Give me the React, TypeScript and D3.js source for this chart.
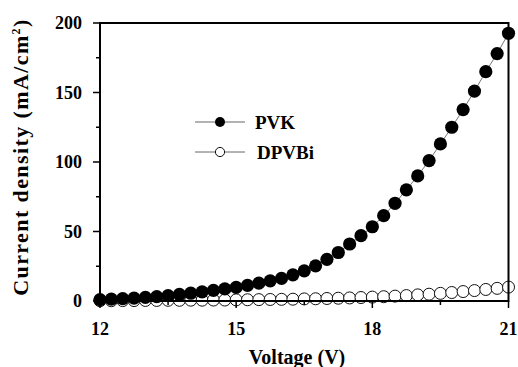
import React from "react";
import * as d3 from "d3";

const voltage: number[] = [
  12, 12.25, 12.5, 12.75, 13, 13.25, 13.5, 13.75, 14, 14.25, 14.5, 14.75,
  15, 15.25, 15.5, 15.75, 16, 16.25, 16.5, 16.75, 17, 17.25, 17.5, 17.75,
  18, 18.25, 18.5, 18.75, 19, 19.25, 19.5, 19.75, 20, 20.25, 20.5, 20.75, 21,
];
const pvk: number[] = [
  1.0, 1.3, 1.7, 2.1, 2.6, 3.2, 3.9, 4.7, 5.6, 6.6, 7.6, 8.7,
  9.8, 11.2, 12.8, 14.5, 16.3, 18.8, 21.7, 25.3, 30.0, 34.9, 41.0, 47.0,
  53.4, 61.4, 70.3, 80.0, 90.0, 101.0, 113.0, 125.0, 137.7, 151.0, 165.0, 178.0, 192.6,
];
const dpvbi: number[] = [
  0.2, 0.2, 0.3, 0.3, 0.4, 0.4, 0.5, 0.5, 0.6, 0.6, 0.7, 0.7,
  0.8, 0.9, 1.0, 1.1, 1.2, 1.3, 1.5, 1.6, 1.8, 2.0, 2.2, 2.5,
  2.8, 3.1, 3.5, 3.9, 4.4, 4.9, 5.5, 6.1, 6.8, 7.5, 8.3, 9.1, 10.0,
];
const xMajor: number[] = [12, 15, 18, 21];
const xMinor: number[] = [13.5, 16.5, 19.5];
const yMajor: number[] = [0, 50, 100, 150, 200];
const yMinor: number[] = [25, 75, 125, 175];
const seriesNames: string[] = ["PVK", "DPVBi"];

const FONT = '"Liberation Serif", "DejaVu Serif", serif';

export default function App() {
  const left = 100, right = 508.5, top = 23, bottom = 301;
  const x = d3.scaleLinear().domain([12, 21]).range([left, right]);
  const y = d3.scaleLinear().domain([0, 200]).range([bottom, top]);
  const line = d3
    .line<number>()
    .x((_, i) => x(voltage[i]))
    .y((d) => y(d));

  return (
    <svg
      width={518}
      height={367}
      style={{ position: "absolute", left: 0, top: 0, background: "#fff", fontFamily: FONT, fontWeight: "bold" }}
    >
      <rect x={0} y={0} width={518} height={367} fill="#fff" />
      {/* DPVBi series */}
      <path d={line(dpvbi) || ""} fill="none" stroke="#777" strokeWidth={1} />
      {dpvbi.map((v, i) => (
        <circle key={"d" + i} cx={x(voltage[i])} cy={y(v)} r={6} fill="#fff" stroke="#111" strokeWidth={1} />
      ))}
      {/* PVK series */}
      <path d={line(pvk) || ""} fill="none" stroke="#777" strokeWidth={1} />
      {pvk.map((v, i) => (
        <circle key={"p" + i} cx={x(voltage[i])} cy={y(v)} r={6.6} fill="#000" />
      ))}

      {/* frame */}
      <rect x={left} y={top} width={right - left} height={bottom - top} fill="none" stroke="#000" strokeWidth={2} />

      {/* x ticks */}
      {xMajor.map((t) => (
        <g key={"xt" + t}>
          <line x1={x(t)} x2={x(t)} y1={bottom} y2={bottom + 7} stroke="#000" strokeWidth={1.5} />
          <text x={x(t)} y={335} textAnchor="middle" fontSize={18}>
            {t}
          </text>
        </g>
      ))}
      {xMinor.map((t) => (
        <line key={"xm" + t} x1={x(t)} x2={x(t)} y1={bottom} y2={bottom + 4} stroke="#000" strokeWidth={1.5} />
      ))}

      {/* y ticks */}
      {yMajor.map((t) => (
        <g key={"yt" + t}>
          <line x1={left - 7} x2={left} y1={y(t)} y2={y(t)} stroke="#000" strokeWidth={1.5} />
          <text x={82} y={y(t) + 6} textAnchor="end" fontSize={18}>
            {t}
          </text>
        </g>
      ))}
      {yMinor.map((t) => (
        <line key={"ym" + t} x1={left - 4} x2={left} y1={y(t)} y2={y(t)} stroke="#000" strokeWidth={1.5} />
      ))}

      {/* axis titles */}
      <text x={297} y={364} textAnchor="middle" fontSize={20}>
        Voltage (V)
      </text>
      <text transform={`translate(28,157) rotate(-90)`} textAnchor="middle" fontSize={22} letterSpacing={1.4}>
        Current density (mA/cm<tspan dy={-8} fontSize={12}>2</tspan>
        <tspan dy={8}>)</tspan>
      </text>

      {/* legend */}
      <g>
        <line x1={195} x2={245} y1={122} y2={122} stroke="#666" strokeWidth={1} />
        <circle cx={220} cy={122} r={5} fill="#000" />
        <text x={255} y={129} fontSize={19}>
          {seriesNames[0]}
        </text>
        <line x1={195} x2={245} y1={152} y2={152} stroke="#666" strokeWidth={1} />
        <circle cx={220} cy={152} r={4.6} fill="#fff" stroke="#111" strokeWidth={1} />
        <text x={257} y={159} fontSize={19}>
          {seriesNames[1]}
        </text>
      </g>
    </svg>
  );
}
